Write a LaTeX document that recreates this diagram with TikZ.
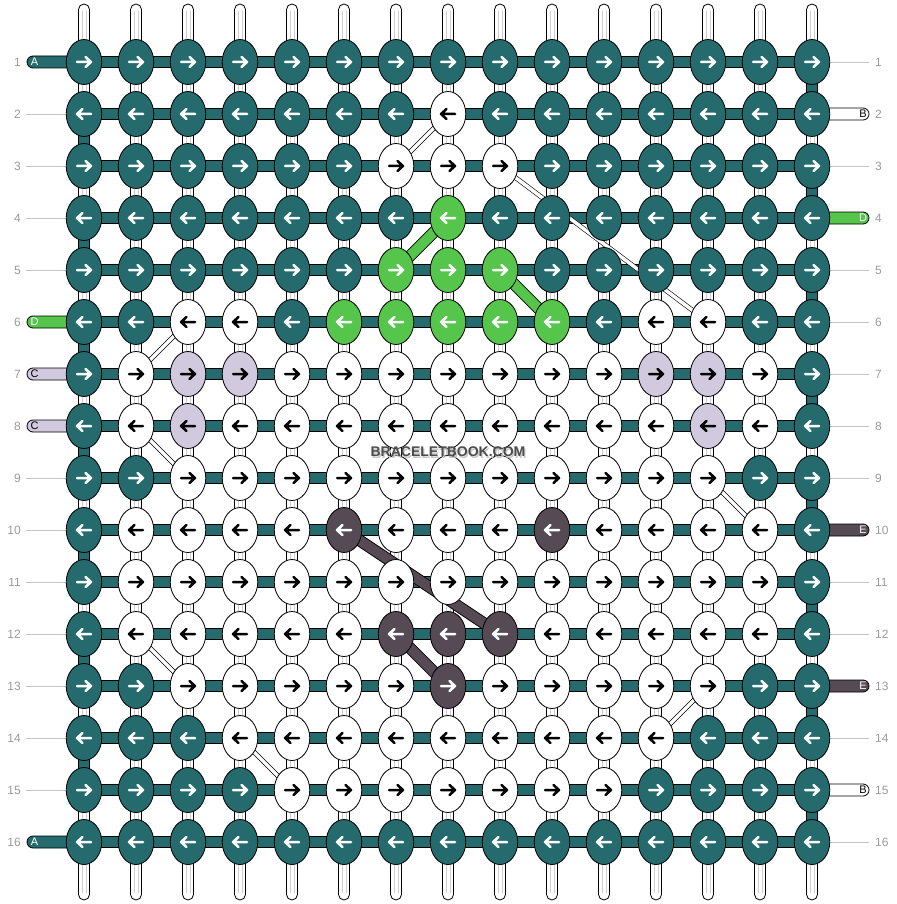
\documentclass[tikz,border=0pt]{standalone}
\usepackage{fontspec}
\setmainfont{Liberation Sans}
\usetikzlibrary{shapes.geometric}
\definecolor{ct}{HTML}{256B6E}
\definecolor{cw}{HTML}{FFFFFF}
\definecolor{cg}{HTML}{55C54B}
\definecolor{cp}{HTML}{D1C9DD}
\definecolor{cd}{HTML}{564B55}
\colorlet{at}{white}\colorlet{aw}{black}\colorlet{ag}{white}\colorlet{ap}{black}\colorlet{ad}{white}
\definecolor{numgray}{HTML}{9A9A9A}
\definecolor{guide}{HTML}{C4C4C4}
\definecolor{strandgray}{HTML}{CFCFCF}
\begin{document}
\begin{tikzpicture}[x=1pt,y=-1pt,
  knot/.style={ellipse, draw=black, line width=0.8pt, minimum width=35.5pt, minimum height=45pt, inner sep=0pt},
  hbar/.style={double=ct, double distance=10pt, line width=0.9pt},
  thickdiag/.style={double=#1, double distance=10pt, line width=0.9pt},
  thindiag/.style={double=white, double distance=3.5pt, line width=0.6pt},
  vstrand/.style={fill=white, draw=black, line width=0.8pt, rounded corners=5.5pt},
  vline/.style={strandgray, line width=0.6pt},
  guideline/.style={guide, line width=0.8pt},
  sidestrand/.style={draw=black, line width=0.8pt, rounded corners=6pt},
  num/.style={text=numgray, font=\fontsize{12}{12}\selectfont, inner sep=0pt},
  lab/.style={font=\fontsize{11}{11}\selectfont, inner sep=0pt},
  arrowline/.style={line width=2.5pt, line cap=round, line join=round},
  rarr/.pic={\draw[arrowline] (-7,0) -- (7,0) (1.5,-5) -- (7,0) -- (1.5,5);},
  larr/.pic={\draw[arrowline] (7,0) -- (-7,0) (-1.5,-5) -- (-7,0) -- (-1.5,5);},
]
\useasboundingbox (0,0) rectangle (896,904);

% grid coordinates
\foreach \r in {1,...,16}{
  \foreach \c in {1,...,15}{
    \coordinate (p-\r-\c) at ({32+52*\c},{10+52*\r});
  }
}

% vertical strands
\foreach \c in {1,...,15}{
  \coordinate (top-\c) at ({32+52*\c},4);
  \coordinate (bot-\c) at ({32+52*\c},900);
  \draw[vstrand] ([xshift=-5.5pt]top-\c) rectangle ([xshift=5.5pt]bot-\c);
  \draw[vline] ([xshift=-2pt,yshift=-7pt]top-\c) -- ([xshift=-2pt,yshift=7pt]bot-\c);
  \draw[vline] ([xshift=2pt,yshift=-7pt]top-\c) -- ([xshift=2pt,yshift=7pt]bot-\c);
}

% guide lines and side strands
\foreach \r in {2,3,4,5,9,10,11,12,13,14,15}{
  \coordinate (lg-\r) at (26,{10+52*\r});
  \draw[guideline] (lg-\r) -- (p-\r-1);
}
\foreach \r in {1,3,5,6,7,8,9,11,12,14,16}{
  \coordinate (rg-\r) at (869,{10+52*\r});
  \draw[guideline] (p-\r-15) -- (rg-\r);
}
\foreach \r/\col/\tc/\t in {1/ct/white/A, 6/cg/white/D, 7/cp/black/C, 8/cp/black/C, 16/ct/white/A}{
  \coordinate (ls-\r) at (27,{10+52*\r});
  \draw[sidestrand, fill=\col] ([yshift=6pt]ls-\r) rectangle ([yshift=-6pt]p-\r-1);
  \node[lab, text=\tc] (ll-\r) at ([xshift=7.5pt]ls-\r) {\t};
}
\foreach \r/\col/\tc/\t in {2/cw/black/B, 4/cg/white/D, 10/cd/white/E, 13/cd/white/E, 15/cw/black/B}{
  \coordinate (rs-\r) at (869,{10+52*\r});
  \draw[sidestrand, fill=\col] ([yshift=6pt]p-\r-15) rectangle ([yshift=-6pt]rs-\r);
  \node[lab, text=\tc] (rl-\r) at ([xshift=-6pt]rs-\r) {\t};
}

% row numbers
\foreach \r in {1,...,16}{
  \node[num, anchor=east] (nl-\r) at (21,{10+52*\r}) {\r};
  \node[num, anchor=west] (nr-\r) at (875,{10+52*\r}) {\r};
}

% horizontal bars
\foreach \r in {1,...,16}{
  \draw[hbar] (p-\r-1) -- (p-\r-15);
}
% edge turns
\foreach \r [evaluate=\r as \s using int(\r+1)] in {2,4,...,14}{
  \draw[hbar] (p-\r-1) -- (p-\s-1);
}
\foreach \r [evaluate=\r as \s using int(\r+1)] in {1,3,...,15}{
  \draw[hbar] (p-\r-15) -- (p-\s-15);
}

% thin diagonals
\draw[thindiag] (p-2-8) -- (p-3-7);
\draw[thindiag] (p-3-9) -- (p-6-13);
\draw[thindiag] (p-6-3) -- (p-7-2);
\draw[thindiag] (p-8-2) -- (p-9-3);
\draw[thindiag] (p-9-13) -- (p-10-14);
\draw[thindiag] (p-12-2) -- (p-13-3);
\draw[thindiag] (p-13-13) -- (p-14-12);
\draw[thindiag] (p-14-4) -- (p-15-5);
% thick diagonals
\draw[thickdiag=cg] (p-4-8) -- (p-5-7);
\draw[thickdiag=cg] (p-5-9) -- (p-6-10);
\draw[thickdiag=cd] (p-10-6) -- (p-12-9);
\draw[thickdiag=cd] (p-12-7) -- (p-13-8);

% knots
\foreach \r/\row in {
 1/{t,t,t,t,t,t,t,t,t,t,t,t,t,t,t},
 2/{t,t,t,t,t,t,t,w,t,t,t,t,t,t,t},
 3/{t,t,t,t,t,t,w,w,w,t,t,t,t,t,t},
 4/{t,t,t,t,t,t,t,g,t,t,t,t,t,t,t},
 5/{t,t,t,t,t,t,g,g,g,t,t,t,t,t,t},
 6/{t,t,w,w,t,g,g,g,g,g,t,w,w,t,t},
 7/{t,w,p,p,w,w,w,w,w,w,w,p,p,w,t},
 8/{t,w,p,w,w,w,w,w,w,w,w,w,p,w,t},
 9/{t,t,w,w,w,w,w,w,w,w,w,w,w,t,t},
 10/{t,w,w,w,w,d,w,w,w,d,w,w,w,w,t},
 11/{t,w,w,w,w,w,w,w,w,w,w,w,w,w,t},
 12/{t,w,w,w,w,w,d,d,d,w,w,w,w,w,t},
 13/{t,t,w,w,w,w,w,d,w,w,w,w,w,t,t},
 14/{t,t,t,w,w,w,w,w,w,w,w,w,t,t,t},
 15/{t,t,t,t,w,w,w,w,w,w,w,t,t,t,t},
 16/{t,t,t,t,t,t,t,t,t,t,t,t,t,t,t}}{
  \foreach \k [count=\c] in \row {
    \node[knot, fill=c\k] (k-\r-\c) at (p-\r-\c) {};
    \ifodd\r
      \pic[color=a\k] at (k-\r-\c.center) {rarr};
    \else
      \pic[color=a\k] at (k-\r-\c.center) {larr};
    \fi
  }
}

% watermark
\node[font=\bfseries\fontsize{14}{14}\selectfont, text=black!22] (wms) at (449.2,453.2) {BRACELETBOOK.COM};
\node[font=\bfseries\fontsize{14}{14}\selectfont, text=black!70] (wm) at (448,452) {BRACELETBOOK.COM};
\end{tikzpicture}
\end{document}
